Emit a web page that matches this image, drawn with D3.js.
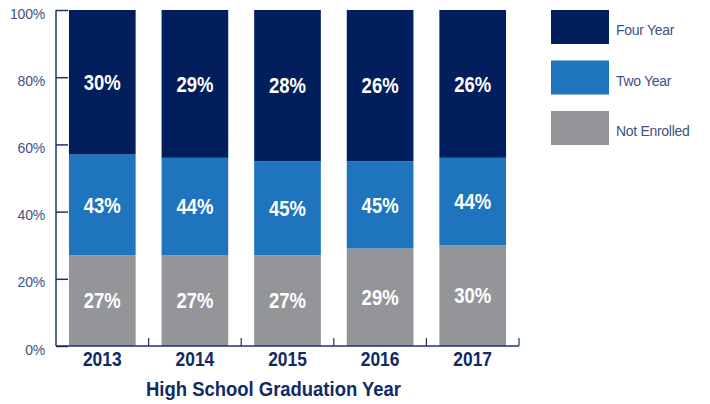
<!DOCTYPE html>
<html><head><meta charset="utf-8">
<script src="https://cdn.jsdelivr.net/npm/d3@7"></script>
<style>
html,body{margin:0;padding:0;background:#fff;}
svg{display:block;}
</style></head>
<body><svg id="c" width="710" height="404"></svg>
<script>
const years = ["2013","2014","2015","2016","2017"];
// printed percentages as shown in the reference
const fourYear = [30, 29, 28, 26, 26];
const twoYear = [43, 44, 45, 45, 44];
const notEnrolled = [27, 27, 27, 29, 30];
const yTicks = [0, 20, 40, 60, 80, 100];
const legendLabels = ["Four Year", "Two Year", "Not Enrolled"];
const colors = {four: "#021e5c", two: "#1e74bd", none: "#939598"};

const svg = d3.select("#c");
const axisColor = "#1d3370";
const tickText = "#3f5185";
const boldFont = "'Liberation Sans',Arial,sans-serif";

const x = d3.scaleBand().domain(years).range([56, 519]).paddingInner(0.28).paddingOuter(0.14);
const y = d3.scaleLinear().domain([0, 100]).range([346, 10]);

// The reference stacks: grey bottom, light-blue middle, navy top;
// the middle segment's height equals the value printed on the navy segment,
// and the printed labels are as in the reference.
const rows = years.map((yr, i) => ({year: yr, none: notEnrolled[i], mid: fourYear[i], top: twoYear[i],
  labNone: notEnrolled[i], labMid: twoYear[i], labTop: fourYear[i]}));
const stack = d3.stack().keys(["none", "mid", "top"])(rows);
const fills = {none: colors.none, mid: colors.two, top: colors.four};
const labKey = {none: "labNone", mid: "labMid", top: "labTop"};

stack.forEach(s => {
  const g = svg.append("g");
  g.selectAll("rect").data(s).join("rect")
    .attr("x", d => x(d.data.year))
    .attr("width", x.bandwidth())
    .attr("y", d => y(d[1]))
    .attr("height", d => y(d[0]) - y(d[1]))
    .attr("fill", fills[s.key]);
  g.selectAll("text").data(s).join("text")
    .attr("transform", d => `translate(${x(d.data.year) + x.bandwidth() / 2},${(y(d[0]) + y(d[1])) / 2}) scale(0.86,1)`)
    .attr("dy", "0.36em")
    .attr("text-anchor", "middle")
    .attr("fill", "#fff")
    .attr("font-family", boldFont)
    .attr("font-weight", "bold")
    .attr("font-size", 21.5)
    .text(d => d.data[labKey[s.key]] + "%");
});

// y axis
const yAxis = svg.append("g").attr("transform", "translate(56,0)")
  .call(d3.axisRight(y).tickValues(yTicks).tickSize(12).tickFormat(""));
yAxis.select(".domain").attr("d", "M0," + y(100) + "V" + y(0)).attr("stroke", axisColor).attr("stroke-width", 1.5);
yAxis.selectAll(".tick line").attr("stroke", axisColor).attr("stroke-width", 1.5);
svg.append("g").selectAll("text").data(yTicks).join("text")
  .attr("x", 45).attr("y", d => y(d) + 3.5).attr("dy", "0.36em")
  .attr("text-anchor", "end")
  .attr("fill", tickText)
  .attr("font-family", "'Liberation Sans',Arial,sans-serif")
  .attr("font-size", 14)
  .attr("letter-spacing", "-0.2")
  .text(d => d + "%");

// x axis
const xg = svg.append("g");
xg.append("line").attr("x1", 56).attr("x2", 519).attr("y1", y(0)).attr("y2", y(0))
  .attr("stroke", axisColor).attr("stroke-width", 1.5);
const bounds = years.map(yr => x(yr) + x.bandwidth() + x.step() * 0.14);
xg.selectAll("line.tk").data(bounds).join("line").attr("class", "tk")
  .attr("x1", d => d).attr("x2", d => d).attr("y1", y(0)).attr("y2", y(0) - 8)
  .attr("stroke", axisColor).attr("stroke-width", 1.2);
xg.selectAll("text").data(years).join("text")
  .attr("transform", d => `translate(${x(d) + x.bandwidth() / 2},366) scale(0.87,1)`)
  .attr("text-anchor", "middle")
  .attr("fill", "#0f2a66")
  .attr("font-family", boldFont)
  .attr("font-weight", "bold")
  .attr("font-size", 20)
  .text(d => d);

svg.append("text").attr("transform", "translate(273.5,396) scale(0.9,1)")
  .attr("text-anchor", "middle")
  .attr("fill", "#0f2a66")
  .attr("font-family", boldFont)
  .attr("font-weight", "bold")
  .attr("font-size", 20.5)
  .text("High School Graduation Year");

// legend
const legColors = [colors.four, colors.two, colors.none];
const lg = svg.append("g");
legendLabels.forEach((t, i) => {
  lg.append("rect").attr("x", 551).attr("y", 10 + i * 50.5).attr("width", 58).attr("height", 34).attr("fill", legColors[i]);
  lg.append("text").attr("x", 616).attr("y", 10 + i * 50.5 + 20).attr("dy", "0.36em")
    .attr("fill", tickText)
    .attr("font-family", "'Liberation Sans',Arial,sans-serif")
    .attr("font-size", 14)
    .attr("letter-spacing", "-0.3")
    .text(t);
});
</script></body></html>
